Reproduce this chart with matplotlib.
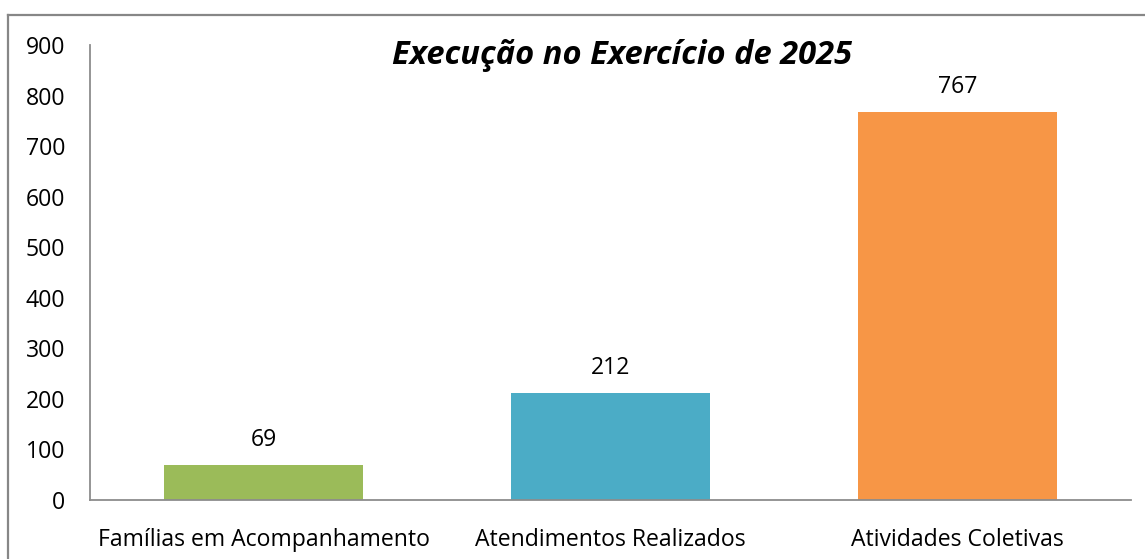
import matplotlib
matplotlib.use("Agg")
import matplotlib.pyplot as plt
from matplotlib.lines import Line2D

categories = ["Famílias em Acompanhamento", "Atendimentos Realizados", "Atividades Coletivas"]
values = [69, 212, 767]
colors = ["#9BBB59", "#4BACC6", "#F79646"]
yticks = [0, 100, 200, 300, 400, 500, 600, 700, 800, 900]
title = "Execução no Exercício de 2025"

plt.rcParams['font.family'] = ['Open Sans', 'DejaVu Sans']

W, H = 1145, 559
fig = plt.figure(figsize=(W / 100, H / 100), dpi=100)
ax = fig.add_axes([90 / W, 1 - 500 / H, (1131 - 90) / W, (500 - 45) / H])

x = list(range(len(categories)))
bars = ax.bar(x, values, width=0.573, color=colors)
ax.set_xlim(-0.5, len(categories) - 0.5)
ax.set_ylim(0, 900)
ax.set_yticks(yticks)
ax.set_xticks(x)
ax.set_xticklabels(categories)
ax.tick_params(axis='both', length=0, labelsize=16.6, colors='black')
ax.tick_params(axis='y', pad=18)
ax.tick_params(axis='x', pad=20.5)

for s in ['top', 'right']:
    ax.spines[s].set_visible(False)
for s in ['left', 'bottom']:
    ax.spines[s].set_color('#8C8C8C')
    ax.spines[s].set_linewidth(1.3)

for xi, v in zip(x, values):
    ax.annotate(str(v), (xi, v), xytext=(0, 18), textcoords='offset points',
                ha='center', va='center', fontsize=16.6)

fig.text(622 / W, 1 - 55.5 / H, title, ha='center', va='center',
         fontsize=23.5, fontweight='bold', fontstyle='italic')

# outer chart border (top and left visible)
fig.add_artist(Line2D([8 / W, 1.0], [1 - 15 / H, 1 - 15 / H], transform=fig.transFigure,
                      color='#878787', linewidth=1.6))
fig.add_artist(Line2D([8 / W, 8 / W], [0, 1 - 15 / H], transform=fig.transFigure,
                      color='#878787', linewidth=1.6))

fig.savefig("out.png", dpi=100)
